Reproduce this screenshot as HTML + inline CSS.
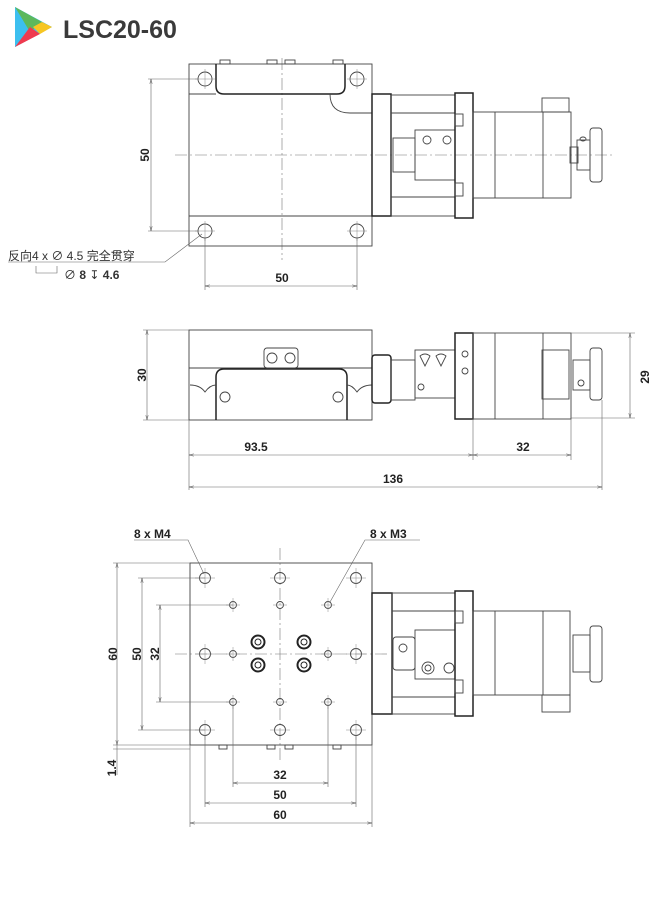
<!DOCTYPE html>
<html><head><meta charset="utf-8"><style>
html,body{margin:0;padding:0;background:#fff;}
svg{display:block;font-family:"Liberation Sans","Noto Sans CJK SC",sans-serif;}
.l{stroke:#444;stroke-width:0.9;fill:none}
.b{stroke:#222;stroke-width:1.5;fill:none}
.d{stroke:#666;stroke-width:0.6;fill:none}
.c{stroke:#777;stroke-width:0.6;fill:none;stroke-dasharray:12 3 2 3}
.x{stroke:#888;stroke-width:0.5;fill:none}
.t{font-size:12px;font-weight:bold;fill:#222;text-anchor:middle}
</style></head><body>
<svg width="660" height="910" viewBox="0 0 660 910">
<defs><marker id="a" markerWidth="8" markerHeight="6" refX="8" refY="3" orient="auto-start-reverse"><path d="M0,1 L8,3 L0,5" fill="none" stroke="#555" stroke-width="0.8"/></marker></defs>
<!-- logo -->
<polygon points="15,7 15,47 52,27" fill="#3cbfef"/>
<polygon points="15,7 42,22 30,32" fill="#5cb85c"/>
<polygon points="42,22 52,27 40,34 33,27" fill="#f7c623"/>
<polygon points="15,47 40,34 30,27" fill="#ef3a4f"/>
<text x="63" y="38" style="font-size:25px;font-weight:bold;fill:#3a3a3a">LSC20-60</text>

<!-- ===== TOP VIEW ===== -->
<line class="c" x1="175" y1="155" x2="615" y2="155"/>
<line class="c" x1="282" y1="58" x2="282" y2="260"/>
<rect class="l" x="189" y="64" width="183" height="182"/>
<line class="l" x1="189" y1="94" x2="216" y2="94"/>
<line class="l" x1="189" y1="216" x2="372" y2="216"/>
<path class="b" d="M216,64 V86 Q216,94 224,94 H337 Q345,94 345,86 V64"/>
<path class="l" d="M330,94 Q330,113 350,113 H372"/>
<rect class="l" x="220" y="60" width="10" height="4"/><rect class="l" x="267" y="60" width="10" height="4"/><rect class="l" x="285" y="60" width="10" height="4"/><rect class="l" x="333" y="60" width="10" height="4"/>
<g class="l"><circle cx="205" cy="79" r="7"/><circle cx="357" cy="79" r="7"/><circle cx="205" cy="231" r="7"/><circle cx="357" cy="231" r="7"/></g>
<g class="x"><path d="M195,79h20M205,69v20M347,79h20M357,69v20M195,231h20M205,221v20M347,231h20M357,221v20"/></g>
<rect class="b" x="372" y="94" width="19" height="122"/>
<rect class="l" x="391" y="95" width="64" height="121"/>
<line class="l" x1="391" y1="113" x2="455" y2="113"/><line class="l" x1="391" y1="197" x2="455" y2="197"/>
<rect class="l" x="393" y="138" width="22" height="34"/>
<rect class="l" x="415" y="130" width="40" height="50"/>
<circle class="l" cx="427" cy="140" r="4"/><circle class="l" cx="447" cy="140" r="4"/>
<rect class="b" x="455" y="93" width="18" height="125"/>
<rect class="l" x="455" y="114" width="8" height="12"/><rect class="l" x="455" y="183" width="8" height="13"/>
<rect class="l" x="473" y="112" width="98" height="86"/>
<line class="l" x1="495" y1="112" x2="495" y2="198"/><line class="l" x1="543" y1="112" x2="543" y2="198"/>
<rect class="l" x="542" y="98" width="27" height="14"/>
<rect class="l" x="570" y="147" width="8" height="16"/>
<rect class="l" x="590" y="128" width="12" height="54" rx="3"/>
<rect class="l" x="577" y="140" width="13" height="30"/>
<ellipse class="l" cx="583" cy="139" rx="3" ry="2"/>
<!-- dims top -->
<line class="d" x1="148" y1="79" x2="198" y2="79"/><line class="d" x1="148" y1="231" x2="198" y2="231"/>
<line class="d" x1="151" y1="79" x2="151" y2="231" marker-start="url(#a)" marker-end="url(#a)"/>
<text class="t" transform="translate(149,155) rotate(-90)">50</text>
<line class="d" x1="205" y1="238" x2="205" y2="290"/><line class="d" x1="357" y1="238" x2="357" y2="290"/>
<line class="d" x1="205" y1="286" x2="357" y2="286" marker-start="url(#a)" marker-end="url(#a)"/>
<text class="t" x="282" y="282">50</text>
<polyline class="d" points="202,234 165,262 8,262"/>
<text x="8" y="260" style="font-size:12px;fill:#333">反向4 x ∅ 4.5 完全贯穿</text>
<path class="d" d="M36,266 V273 H57 V266"/>
<text x="64" y="279" style="font-size:12px;fill:#333">∅ <tspan font-weight="bold">8</tspan> ↧ <tspan font-weight="bold">4.6</tspan></text>

<!-- ===== SIDE VIEW ===== -->
<rect class="l" x="189" y="330" width="183" height="90"/>
<line class="l" x1="189" y1="368" x2="372" y2="368"/>
<path class="b" d="M216,420 V377 Q216,369 224,369 H339 Q347,369 347,377 V420"/>
<path class="l" d="M190,385 Q200,385 205,392 Q210,385 216,385 M347,385 Q352,385 357,392 Q362,385 372,385"/>
<rect class="l" x="264" y="348" width="34" height="20" rx="3"/>
<circle class="l" cx="272" cy="358" r="5"/><circle class="l" cx="290" cy="358" r="5"/>
<circle class="l" cx="225" cy="397" r="5"/><circle class="l" cx="338" cy="397" r="5"/>
<rect class="b" x="372" y="355" width="19" height="48" rx="3"/>
<rect class="l" x="391" y="360" width="24" height="40"/>
<rect class="l" x="415" y="350" width="40" height="48"/>
<path class="l" d="M420,356 Q425,352 430,356 L425,366 Z M436,356 Q441,352 446,356 L441,366 Z"/>
<circle class="l" cx="421" cy="387" r="3"/>
<rect class="b" x="455" y="333" width="18" height="86"/>
<circle class="l" cx="465" cy="354" r="3"/><circle class="l" cx="465" cy="371" r="3"/>
<rect class="l" x="473" y="333" width="98" height="86"/>
<line class="l" x1="495" y1="333" x2="495" y2="419"/><line class="l" x1="543" y1="333" x2="543" y2="419"/>
<rect class="l" x="542" y="350" width="27" height="49"/>
<rect class="l" x="573" y="360" width="17" height="30"/>
<rect class="l" x="590" y="348" width="12" height="52" rx="3"/>
<circle class="l" cx="581" cy="383" r="3"/>
<!-- dims side -->
<line class="d" x1="143" y1="330" x2="189" y2="330"/><line class="d" x1="143" y1="420" x2="189" y2="420"/>
<line class="d" x1="147" y1="330" x2="147" y2="420" marker-start="url(#a)" marker-end="url(#a)"/>
<text class="t" transform="translate(146,375) rotate(-90)">30</text>
<line class="d" x1="473" y1="333" x2="635" y2="333"/><line class="d" x1="571" y1="418" x2="635" y2="418"/>
<line class="d" x1="630" y1="333" x2="630" y2="418" marker-start="url(#a)" marker-end="url(#a)"/>
<text class="t" transform="translate(649,377) rotate(-90)">29</text>
<line class="d" x1="189" y1="420" x2="189" y2="490"/><line class="d" x1="473" y1="419" x2="473" y2="460"/>
<line class="d" x1="571" y1="419" x2="571" y2="460"/><line class="d" x1="602" y1="400" x2="602" y2="490"/>
<line class="d" x1="189" y1="455" x2="473" y2="455" marker-start="url(#a)" marker-end="url(#a)"/>
<text class="t" x="256" y="451">93.5</text>
<line class="d" x1="473" y1="455" x2="571" y2="455" marker-start="url(#a)" marker-end="url(#a)"/>
<text class="t" x="523" y="451">32</text>
<line class="d" x1="189" y1="487" x2="602" y2="487" marker-start="url(#a)" marker-end="url(#a)"/>
<text class="t" x="393" y="483">136</text>

<!-- ===== BOTTOM VIEW ===== -->
<line class="c" x1="175" y1="654" x2="390" y2="654"/>
<line class="c" x1="280" y1="548" x2="280" y2="760"/>
<rect class="l" x="190" y="563" width="182" height="182"/>
<g class="l">
<circle cx="205" cy="578" r="5.5"/><circle cx="280" cy="578" r="5.5"/><circle cx="356" cy="578" r="5.5"/>
<circle cx="205" cy="654" r="5.5"/><circle cx="356" cy="654" r="5.5"/>
<circle cx="205" cy="730" r="5.5"/><circle cx="280" cy="730" r="5.5"/><circle cx="356" cy="730" r="5.5"/>
<circle cx="233" cy="605" r="3.5"/><circle cx="280" cy="605" r="3.5"/><circle cx="328" cy="605" r="3.5"/>
<circle cx="233" cy="654" r="3.5"/><circle cx="328" cy="654" r="3.5"/>
<circle cx="233" cy="702" r="3.5"/><circle cx="280" cy="702" r="3.5"/><circle cx="328" cy="702" r="3.5"/>
</g>
<g class="x"><path d="M195,578h20M205,568v20M270,578h20M346,578h20M356,568v20M195,654h20M205,644v20M346,654h20M356,644v20M195,730h20M205,720v20M270,730h20M346,730h20M356,720v20M226,605h14M233,598v14M273,605h14M321,605h14M328,598v14M226,654h14M233,647v14M321,654h14M328,647v14M226,702h14M233,695v14M273,702h14M321,702h14M328,695v14"/></g>
<g stroke="#222" fill="none">
<circle cx="258" cy="642" r="6.5" stroke-width="2"/><circle cx="258" cy="642" r="3"/>
<circle cx="304" cy="642" r="6.5" stroke-width="2"/><circle cx="304" cy="642" r="3"/>
<circle cx="258" cy="665" r="6.5" stroke-width="2"/><circle cx="258" cy="665" r="3"/>
<circle cx="304" cy="665" r="6.5" stroke-width="2"/><circle cx="304" cy="665" r="3"/>
</g>
<rect class="l" x="219" y="745" width="8" height="4"/><rect class="l" x="267" y="745" width="8" height="4"/><rect class="l" x="285" y="745" width="8" height="4"/><rect class="l" x="333" y="745" width="8" height="4"/>
<rect class="b" x="372" y="593" width="20" height="121"/>
<rect class="l" x="392" y="593" width="63" height="121"/>
<line class="l" x1="392" y1="611" x2="455" y2="611"/><line class="l" x1="392" y1="697" x2="455" y2="697"/>
<rect class="l" x="393" y="637" width="22" height="33" rx="3"/>
<circle class="l" cx="403" cy="648" r="4"/>
<rect class="l" x="415" y="630" width="40" height="49"/>
<circle class="l" cx="428" cy="668" r="6"/><circle class="l" cx="428" cy="668" r="3"/><circle class="l" cx="449" cy="668" r="5"/>
<rect class="b" x="455" y="591" width="18" height="125"/>
<rect class="l" x="455" y="611" width="8" height="12"/><rect class="l" x="455" y="680" width="8" height="13"/>
<rect class="l" x="473" y="611" width="97" height="84"/>
<line class="l" x1="495" y1="611" x2="495" y2="695"/><line class="l" x1="543" y1="611" x2="543" y2="695"/>
<rect class="l" x="542" y="695" width="28" height="17"/>
<rect class="l" x="573" y="635" width="17" height="37"/>
<rect class="l" x="590" y="626" width="12" height="56" rx="3"/>
<!-- dims bottom -->
<line class="d" x1="113" y1="563" x2="190" y2="563"/><line class="d" x1="113" y1="745" x2="190" y2="745"/>
<line class="d" x1="117" y1="563" x2="117" y2="745" marker-start="url(#a)" marker-end="url(#a)"/>
<text class="t" transform="translate(117,654) rotate(-90)">60</text>
<line class="d" x1="138" y1="578" x2="205" y2="578"/><line class="d" x1="138" y1="730" x2="205" y2="730"/>
<line class="d" x1="142" y1="578" x2="142" y2="730" marker-start="url(#a)" marker-end="url(#a)"/>
<text class="t" transform="translate(141,654) rotate(-90)">50</text>
<line class="d" x1="156" y1="605" x2="233" y2="605"/><line class="d" x1="156" y1="702" x2="233" y2="702"/>
<line class="d" x1="160" y1="605" x2="160" y2="702" marker-start="url(#a)" marker-end="url(#a)"/>
<text class="t" transform="translate(159,654) rotate(-90)">32</text>
<line class="d" x1="113" y1="749" x2="190" y2="749"/>
<line class="d" x1="117" y1="745" x2="117" y2="775"/>
<text class="t" transform="translate(116,768) rotate(-90)">1.4</text>
<line class="d" x1="233" y1="706" x2="233" y2="787"/><line class="d" x1="328" y1="706" x2="328" y2="787"/>
<line class="d" x1="233" y1="783" x2="328" y2="783" marker-start="url(#a)" marker-end="url(#a)"/>
<text class="t" x="280" y="779">32</text>
<line class="d" x1="205" y1="736" x2="205" y2="807"/><line class="d" x1="356" y1="736" x2="356" y2="807"/>
<line class="d" x1="205" y1="803" x2="356" y2="803" marker-start="url(#a)" marker-end="url(#a)"/>
<text class="t" x="280" y="799">50</text>
<line class="d" x1="190" y1="745" x2="190" y2="827"/><line class="d" x1="372" y1="745" x2="372" y2="827"/>
<line class="d" x1="190" y1="823" x2="372" y2="823" marker-start="url(#a)" marker-end="url(#a)"/>
<text class="t" x="280" y="819">60</text>
<text x="134" y="538" style="font-size:12px;font-weight:bold;fill:#222">8 x  M4</text>
<polyline class="d" points="134,540 188,540 204,574"/>
<text x="370" y="538" style="font-size:12px;font-weight:bold;fill:#222">8 x  M3</text>
<polyline class="d" points="420,540 365,540 330,602"/>
</svg>
</body></html>
